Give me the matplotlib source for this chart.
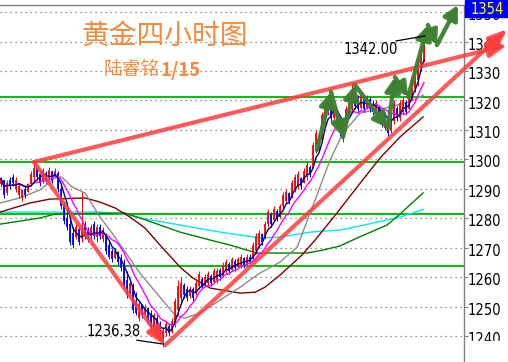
import matplotlib.pyplot as plt
import pandas as pd
from matplotlib.patches import Rectangle


# 4h gold candles, one value per bar (bar index 0..141)
bar_open = [
    1291.5, 1293, 1288.5, 1293, 1294, 1290, 1288, 1287, 1290, 1289,
    1291.5, 1294, 1297, 1295, 1292.5, 1295.5, 1293.5, 1296, 1294.5, 1295.5,
    1290, 1285, 1280, 1278, 1275, 1273.5, 1276.5, 1273, 1278, 1276,
    1274, 1278, 1273.5, 1277, 1273, 1274.5, 1271, 1269, 1266.5, 1268.5,
    1266, 1264, 1259, 1254.5, 1257, 1252, 1246, 1250.5, 1247.5, 1249.5,
    1247, 1243.5, 1246, 1243, 1238, 1241, 1243.5, 1241.5, 1244, 1249,
    1253, 1257.5, 1256, 1253.5, 1256, 1254.5, 1257, 1259.5, 1257.5, 1258,
    1260.5, 1258.5, 1259, 1262.5, 1260.5, 1262, 1264.5, 1262.5, 1265.5, 1263.5,
    1264, 1266.5, 1264.5, 1267, 1266, 1269, 1271, 1274.5, 1273.5, 1278,
    1281.5, 1279.5, 1282.5, 1280.5, 1284, 1286, 1288.5, 1287, 1290, 1291,
    1293.5, 1292, 1294, 1297.5, 1297, 1303, 1308, 1306.5, 1313, 1316,
    1320, 1314, 1316.5, 1313, 1307, 1311, 1315, 1317, 1322, 1320.5,
    1317.5, 1321, 1317.5, 1320.5, 1318.5, 1315.5, 1317.5, 1315, 1310.5, 1313,
    1309.5, 1313, 1317.5, 1314, 1316, 1319.5, 1317, 1321, 1324, 1327,
    1331, 1334,
]
bar_high = [
    1294, 1293, 1293, 1294, 1295, 1294, 1292, 1290, 1291, 1292,
    1296, 1299.5, 1297, 1296, 1297, 1296, 1297.5, 1296, 1297, 1296,
    1291, 1286, 1283, 1280, 1277, 1278, 1277, 1289, 1279, 1277,
    1278, 1279, 1278, 1278, 1277, 1275, 1272, 1270, 1270, 1269,
    1268, 1266, 1262, 1259, 1258, 1255, 1252, 1251, 1251, 1250,
    1249, 1248, 1247, 1245, 1243, 1245, 1244, 1246, 1253, 1259,
    1260, 1258, 1257, 1257, 1256.5, 1259, 1262, 1260, 1261, 1262,
    1261, 1263, 1263, 1263, 1265, 1266, 1265, 1267, 1266, 1267,
    1268, 1267, 1268, 1268, 1272, 1275, 1276, 1275, 1279, 1283,
    1282, 1284, 1283, 1285, 1289, 1290, 1289, 1293, 1295, 1296,
    1294, 1297, 1299, 1298, 1306, 1310, 1309, 1316, 1320, 1322,
    1321, 1319, 1317, 1314, 1313, 1318, 1320, 1326, 1323, 1322,
    1323, 1322, 1322, 1321, 1320, 1320, 1318, 1317, 1316, 1314,
    1316, 1320, 1318, 1320, 1321, 1320, 1324, 1329, 1331, 1335,
    1338, 1342,
]
bar_low = [
    1290.5, 1287, 1288, 1290, 1291, 1289, 1287, 1286, 1287, 1289,
    1291, 1292, 1293, 1291, 1292, 1292, 1293, 1292, 1294, 1289,
    1283, 1278, 1276, 1271, 1270, 1273, 1271, 1272, 1273, 1272,
    1273, 1273, 1272, 1273, 1272, 1268, 1266, 1265, 1266, 1264,
    1262, 1256, 1253, 1254, 1248, 1247, 1245, 1246, 1247, 1244,
    1242, 1243, 1240, 1239, 1236.38, 1240, 1240, 1241, 1243, 1247,
    1251, 1253, 1252, 1253, 1252, 1254, 1256, 1256, 1257, 1257,
    1257, 1258, 1258, 1259, 1260, 1261, 1261, 1262, 1262, 1263,
    1263, 1263, 1264, 1264, 1266, 1268, 1270, 1271, 1273, 1277,
    1277, 1279, 1279, 1280, 1283, 1285, 1285, 1287, 1289, 1290,
    1290, 1292, 1293, 1294, 1297, 1302, 1303, 1306, 1312, 1315,
    1313, 1313, 1311, 1308, 1306, 1310, 1314, 1316, 1317, 1316,
    1317, 1316, 1317, 1316, 1315, 1315, 1313, 1311, 1310, 1308,
    1309, 1312, 1313, 1313, 1315, 1315, 1317, 1320, 1323, 1325,
    1330, 1333,
]
bar_close = [
    1293.5, 1288, 1292, 1291, 1292, 1293, 1291, 1289.5, 1288, 1291.5,
    1295, 1297, 1294, 1292, 1296, 1293, 1296.5, 1293, 1296, 1290,
    1284, 1279, 1277, 1272, 1271, 1277, 1272, 1277, 1274, 1273,
    1277, 1274, 1277, 1274, 1276, 1269, 1267, 1266, 1269, 1265,
    1263, 1257, 1254, 1258, 1249, 1248, 1251, 1247, 1250, 1245,
    1243, 1247, 1241, 1240, 1242, 1244, 1241, 1245, 1252, 1257,
    1258, 1254, 1253, 1256, 1253, 1258, 1261, 1257, 1260, 1261,
    1258, 1262, 1262, 1260, 1264, 1265, 1262, 1266, 1263, 1266,
    1267, 1264, 1267, 1265, 1271, 1274, 1275, 1272, 1278, 1282,
    1278, 1283, 1280, 1284, 1288, 1289, 1286, 1292, 1294, 1295,
    1291, 1296, 1298, 1295, 1305, 1309, 1304, 1315, 1319, 1321,
    1314, 1318, 1312, 1309, 1312, 1317, 1319, 1321, 1318, 1317,
    1322, 1317, 1321, 1317, 1316, 1319, 1314, 1312, 1315, 1309,
    1315, 1319, 1314, 1319, 1320, 1316, 1323, 1328, 1330, 1334,
    1337, 1340,
]

# slower moving averages at a few bars
ma_gray_bars = [-0.3, 6.3, 13, 18, 20.3, 23.7, 28, 33, 37, 40.3, 46.3, 53, 58, 61.3,
                66.3, 73, 79.7, 86.3, 93, 98.7, 104.7, 109.7, 114, 119.7, 129.7, 136.3, 140.7]
ma_gray_vals = [1285.2, 1286.9, 1289.6, 1293.7, 1294.0, 1290.6, 1288.6, 1280.4, 1275.0, 1270.2,
                1261.4, 1253.2, 1247.1, 1246.1, 1247.8, 1252.2, 1256.6, 1261.4, 1265.1, 1270.2,
                1286.2, 1299.8, 1308.9, 1315.7, 1317.8, 1319.5, 1321.8]
ma_maroon_bars = [-0.3, 9.7, 16.3, 28, 33, 38, 43, 48, 53, 59.7, 64, 69.7, 79.7, 84.7,
                  88, 93, 100.3, 104.7, 112, 118.7, 126.3, 133, 140.7]
ma_maroon_vals = [1282.1, 1285.2, 1286.5, 1286.9, 1285.5, 1283.5, 1280.4, 1276.7, 1270.9, 1263.4,
                  1259.7, 1256.3, 1254.6, 1254.9, 1256.6, 1260.7, 1267.5, 1272.6, 1281.8, 1290.6,
                  1300.4, 1307.6, 1314.4]
ma_green_bars = [-0.3, 13, 18, 41.3, 46.3, 53, 59.7, 69.7, 76.3, 85.3, 102, 107.3, 113,
                 118.7, 128.7, 133, 136.3, 140.7]
ma_green_vals = [1278.0, 1280.1, 1281.4, 1281.8, 1280.1, 1277.7, 1275.3, 1272.6, 1270.9, 1268.2,
                 1268.2, 1269.2, 1270.6, 1273.3, 1277.7, 1281.4, 1284.5, 1288.6]
ma_cyan_bars = [-0.3, 33, 41.3, 46.3, 59.7, 73, 86.3, 93, 103, 113, 119.7, 133, 140.7]
ma_cyan_vals = [1282.1, 1282.1, 1281.4, 1280.1, 1277.7, 1275.3, 1273.3, 1273.6, 1275.3, 1276.0,
                1277.4, 1280.4, 1283.0]

# horizontal support / resistance levels
level_prices = [1321.2, 1299.1, 1281.4, 1263.8]
price_ticks = [1240, 1250, 1260, 1270, 1280, 1290, 1300, 1310, 1320, 1330, 1340, 1350]

# red trend lines: (start bar, start price, end bar, end price)
trend_lines = [
    (11, 1299.1, 54.7, 1236.9),
    (11, 1299.1, 168.7, 1338.8),
    (54.7, 1236.9, 168.7, 1344.2),
]
# green zigzag forecast path
wave_bars = [105.3, 110, 114, 118, 129, 131.3, 135.7, 142.3, 145.3, 152.3]
wave_prices = [1303.2, 1322.9, 1307.6, 1325.2, 1310.6, 1327.9, 1321.2, 1345.6, 1338.8, 1352.4]

high_label, low_label = "1342.00", "1236.38"
last_price_label = "1354"

fig = plt.figure(figsize=(5.08, 3.62), dpi=100)
ax = fig.add_axes([0, 0, 464 / 508, 357 / 362])
ax.set_xlim(-0.333, 154.333)
ax.set_ylim(1231.2, 1352.4)

for side in ["left", "bottom"]:
    ax.spines[side].set_visible(False)
for side in ["top", "right"]:
    ax.spines[side].set_color("#808080")
    ax.spines[side].set_linewidth(1.0)
ax.set_xticks([])
ax.set_yticks(price_ticks)
ax.tick_params(axis="y", left=False, right=True, labelleft=False, labelright=False,
               length=3, direction="out", color="#808080")
ax.grid(axis="y", linestyle=(0, (1, 3)), color="#707070", linewidth=0.9)

for price in price_ticks:
    ax.annotate(str(price), xy=(1, price), xycoords=("axes fraction", "data"),
                xytext=(2.4, -2.6), textcoords="offset points", ha="left", va="center",
                fontsize=10.5, fontstretch="condensed", color="black", annotation_clip=False)

for price in level_prices:
    ax.axhline(price, color="#00c000", linewidth=1.4, zorder=2)

# moving averages
closes = pd.Series(bar_close)
bar_index = list(range(len(bar_close)))
ax.plot(ma_cyan_bars, ma_cyan_vals, color="#00e8f0", linewidth=1.0, zorder=3)
ax.plot(ma_green_bars, ma_green_vals, color="#008000", linewidth=1.0, zorder=3)
ax.plot(ma_maroon_bars, ma_maroon_vals, color="#800000", linewidth=1.0, zorder=3)
ax.plot(ma_gray_bars, ma_gray_vals, color="#8c8c8c", linewidth=1.0, zorder=3)
ax.plot(bar_index, closes.rolling(10, min_periods=1).mean(), color="#ff00ff", linewidth=1.0, zorder=5)
ax.plot(bar_index, closes.rolling(5, min_periods=1).mean(), color="#000080", linewidth=1.0, zorder=5)

# candles
bar_colors = ["#ff0000" if c >= o else "#0000ff" for o, c in zip(bar_open, bar_close)]
ax.vlines(bar_index, bar_low, bar_high, colors=bar_colors, linewidth=0.7, zorder=4)
ax.vlines(bar_index, bar_open, bar_close, colors=bar_colors, linewidth=1.3, zorder=4)

# trend lines
for x0, y0, x1, y1 in trend_lines:
    ax.annotate("", xy=(x1, y1), xytext=(x0, y0), annotation_clip=False, zorder=6,
                arrowprops=dict(arrowstyle="-|>,head_length=0.6,head_width=0.25",
                                color="#ff3c3c", alpha=0.85, lw=3.0, mutation_scale=18,
                                shrinkA=0, shrinkB=0, clip_on=False))

# green zigzag
for k in range(len(wave_bars) - 1):
    ax.annotate("", xy=(wave_bars[k + 1], wave_prices[k + 1]), xytext=(wave_bars[k], wave_prices[k]),
                annotation_clip=False, zorder=7,
                arrowprops=dict(arrowstyle="-|>,head_length=0.6,head_width=0.32",
                                color="#3f7f32", alpha=0.95, lw=3.2, mutation_scale=14,
                                shrinkA=0, shrinkB=0, clip_on=False))

# high / low labels with leaders
ax.plot([131.7, 141.3], [1340.2, 1341.9], color="black", linewidth=0.9, zorder=8)
ax.text(123.3, 1337.4, high_label, ha="center", va="center", fontsize=10.5,
        fontstretch="condensed", color="black", zorder=8)
ax.plot([45.3, 54], [1238.6, 1237.3], color="black", linewidth=0.9, zorder=8)
ax.text(37.7, 1241.6, low_label, ha="center", va="center", fontsize=10.5,
        fontstretch="condensed", color="black", zorder=8)

# titles
cjk = ["Noto Sans CJK SC", "DejaVu Sans"]
fig.text(165 / 508, 1 - 36 / 362, "黄金四小时图", fontsize=20, color="#f68a3c",
         family=cjk, ha="center", va="center")
fig.text(160 / 508, 1 - 70 / 362, "陆睿铭", fontsize=13.5, color="#f68a3c",
         family=cjk, ha="right", va="center")
fig.text(160 / 508, 1 - 70 / 362, "1/15", fontsize=13.5, color="#f68a3c", weight="bold",
         family=cjk, ha="left", va="center")

# last price box on the axis
fig.add_artist(Rectangle((465 / 508, 1 - 17 / 362), 43 / 508, 17 / 362,
                         transform=fig.transFigure, color="#0000ff", zorder=20))
fig.text(487 / 508, 1 - 9 / 362, last_price_label, fontsize=10.5, fontstretch="condensed",
         color="#ffff00", ha="center", va="center", zorder=21)
# bottom label is cut off in the original
fig.add_artist(Rectangle((466 / 508, 0), 42 / 508, 21 / 362,
                         transform=fig.transFigure, color="white", zorder=20))

fig.savefig("out.png", dpi=100, facecolor="white")
